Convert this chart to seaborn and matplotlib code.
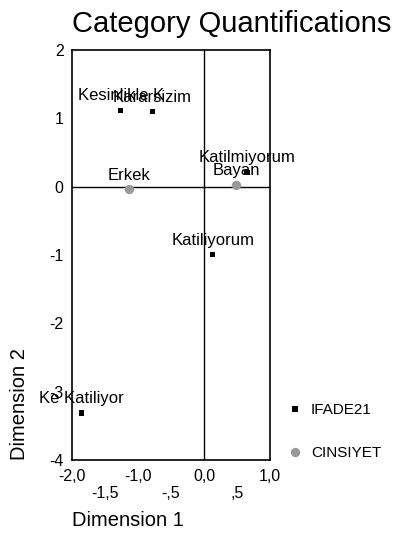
import pandas as pd
import matplotlib
matplotlib.use("Agg")
import matplotlib.pyplot as plt
import seaborn as sns

# category quantifications
ifade_labels = ["Kesinlikle K", "Kararsizim", "Katilmiyorum", "Katiliyorum", "Ke Katiliyor"]
ifade_x = [-1.26, -0.78, 0.65, 0.13, -1.86]
ifade_y = [1.12, 1.10, 0.21, -0.99, -3.31]

cins_labels = ["Erkek", "Bayan"]
cins_x = [-1.13, 0.49]
cins_y = [-0.04, 0.02]

xticks = [-2.0, -1.5, -1.0, -0.5, 0.0, 0.5, 1.0]
xticklabels = ["-2,0", "\n-1,5", "-1,0", "\n-,5", "0,0", "\n,5", "1,0"]
yticks = [2, 1, 0, -1, -2, -3, -4]

df = pd.concat([
    pd.DataFrame({"x": ifade_x, "y": ifade_y, "lab": ifade_labels, "var": "IFADE21"}),
    pd.DataFrame({"x": cins_x, "y": cins_y, "lab": cins_labels, "var": "CINSIYET"}),
], ignore_index=True)

sns.set_style("white")
plt.rcParams['font.family'] = ['Liberation Sans', 'DejaVu Sans']
plt.rcParams['text.color'] = 'black'
plt.rcParams['xtick.color'] = 'black'
plt.rcParams['ytick.color'] = 'black'

fig = plt.figure(figsize=(4.02, 5.44), dpi=100)
ax = fig.add_axes([0.179, 0.154, 0.493, 0.754])

# reference lines through origin
ax.axvline(0, color="black", lw=1, zorder=1)
ax.axhline(0, color="black", lw=1, zorder=1)

sns.scatterplot(data=df, x="x", y="y", hue="var", style="var",
                palette={"IFADE21": "black", "CINSIYET": "#999999"},
                markers={"IFADE21": "s", "CINSIYET": "o"},
                size="var", sizes={"IFADE21": 14, "CINSIYET": 45},
                edgecolor="none", ax=ax, zorder=3)

for _, r in df.iterrows():
    ax.annotate(r["lab"], (r["x"], r["y"]), xytext=(0, 5), textcoords="offset points",
                ha="center", va="bottom", fontsize=12, color="black", zorder=4)

ax.set_xlim(-2, 1)
ax.set_ylim(-4, 2)
ax.set_xticks(xticks)
ax.set_xticklabels(xticklabels, fontsize=11.5)
ax.set_yticks(yticks)
ax.set_yticklabels([str(v) for v in yticks], fontsize=11.5)
ax.tick_params(axis="both", direction="out", length=4, width=1, color="black",
               labelcolor="black", pad=2)
for s in ax.spines.values():
    s.set_color("black")
    s.set_linewidth(1.2)
ax.set_xlabel("")
ax.set_ylabel("")

handles, labels = ax.get_legend_handles_labels()
leg = ax.legend(handles, labels, loc="upper left", bbox_to_anchor=(0.678, 0.284),
                bbox_transform=fig.transFigure, frameon=False, fontsize=11,
                labelspacing=1.9, handletextpad=0.4, handlelength=1.2)
for t in leg.get_texts():
    t.set_color("black")

fig.text(0.577, 0.982, "Category Quantifications", ha="center", va="top", fontsize=21)
fig.text(0.179, 0.025, "Dimension 1", ha="left", va="bottom", fontsize=14.5)
fig.text(0.025, 0.154, "Dimension 2", ha="left", va="bottom", rotation=90, fontsize=14.5)

fig.savefig("out.png", dpi=100)
